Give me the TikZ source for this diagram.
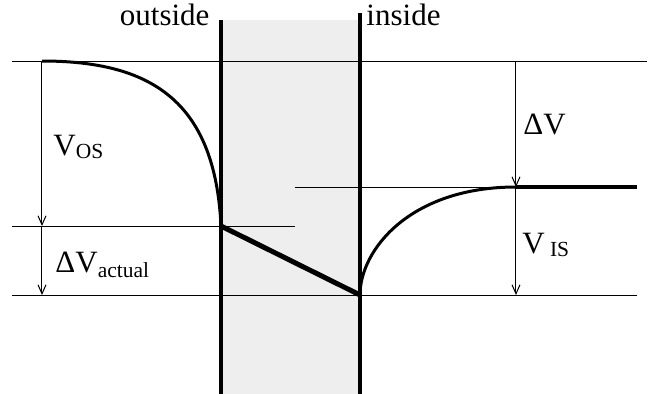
\documentclass[tikz,border=0pt]{standalone}
\usepackage{fontspec}
\setmainfont{Liberation Serif}
\usepackage{tikz}
\usetikzlibrary{arrows.meta,positioning,calc}
\definecolor{ink}{HTML}{000000}
\definecolor{membranebg}{HTML}{EEEEEE}
\newcommand{\lowsub}[2][1.2pt]{\raisebox{-#1}{\fontsize{8.6}{9}\selectfont #2}}

\begin{document}
\begin{tikzpicture}[x=0.4pt,y=-0.4pt,
  level/.style={draw=ink,line width=0.4pt},
  wall/.style={draw=ink,line width=1.35pt},
  potential/.style={draw=ink,line width=1.2pt},
  gap/.style={draw=ink,line width=0.4pt,-{Straight Barb[length=3.6pt,width=3.2pt]}},
  lbl/.style={inner sep=0pt,font=\fontsize{12.4}{14}\selectfont}]
 \useasboundingbox (0,0) rectangle (649,394);
 % membrane
 \fill[membranebg] (221,20) rectangle (360,394);
 % reference levels
 \draw[level] (12,61) -- (647,61);
 \draw[level] (12,226) -- (295,226);
 \draw[level] (295,187) -- (637,187);
 \draw[level] (12,295) -- (637,295);
 % points of the profile
 \coordinate (restL) at (42,61);
 \coordinate (wallL) at (221,226);
 \coordinate (wallR) at (360,295);
 \coordinate (restR) at (516,187);
 \coordinate (endR)  at (637,187);
 \coordinate (lowL)  at (42,226);
 \coordinate (baseL) at (42,295);
 \coordinate (topR)  at (516,61);
 \coordinate (baseR) at (516,295);
 % potential profile
 \draw[potential] (restL) .. controls (150,61) and (215,100) .. (wallL);
 \draw[draw=ink,line width=2pt] (wallL) -- (wallR);
 \draw[potential] (wallR) .. controls (360,250) and (410,187) .. (restR);
 \draw[draw=ink,line width=1.5pt] (restR) -- (endR);
 % membrane walls
 \draw[wall] (221,20) -- (221,394);
 \draw[wall] (360,13) -- (360,394);
 % differences
 \draw[gap] (restL) -- (lowL);
 \draw[gap] (lowL) -- (baseL);
 \draw[gap] (topR) -- (restR);
 \draw[gap] (restR) -- (baseR);
 % labels
 \node[lbl,anchor=base east] (outside) at (210,25) {outside};
 \node[lbl,anchor=base west] (inside) at (366,25) {inside};
 \node[lbl,anchor=base west] (vos) at (53,155) {V\lowsub{OS}};
 \node[lbl,anchor=base west] (dvact) at (55,272) {ΔV\lowsub[2pt]{actual}};
 \node[lbl,anchor=base west] (dv) at (523,134) {ΔV};
 \node[lbl,anchor=base west] (vis) at (522,253) {V\,\lowsub{IS}};
\end{tikzpicture}
\end{document}
